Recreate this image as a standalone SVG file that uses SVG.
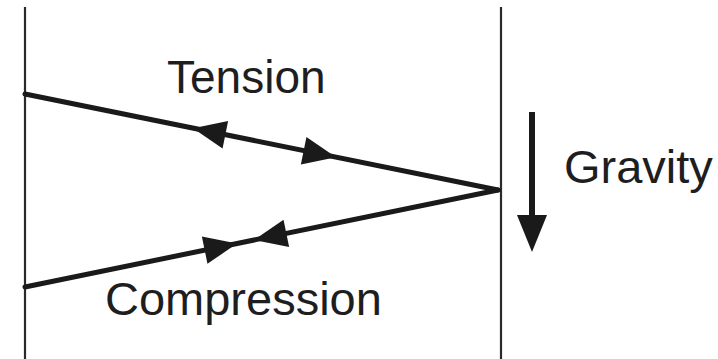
<svg xmlns="http://www.w3.org/2000/svg" width="718" height="359" viewBox="0 0 718 359">
<style>
.wall{stroke:#2a2a2a;stroke-width:2.2;fill:none}
.member{stroke:#1a1a1a;stroke-width:5;fill:none;stroke-linecap:round}
.head{fill:#1a1a1a}
.lbl{font-family:"Liberation Sans",Arial,sans-serif;font-size:46px;fill:#1e1e1e}
.big{font-size:47px}
</style>
<rect width="718" height="359" fill="#fff"/>
<g id="walls">
<line class="wall" x1="25" y1="7" x2="25" y2="359"/>
<line class="wall" x1="501" y1="7" x2="501" y2="359"/>
</g>
<g id="connectors">
<line class="member" x1="25" y1="94" x2="498" y2="190"/>
<line class="member" x1="25" y1="287" x2="498" y2="190"/>
<g transform="translate(193,128.2) rotate(11.47)"><polygon class="head" points="0,0 33,-14 33,14"/></g>
<g transform="translate(336,157.3) rotate(11.47)"><polygon class="head" points="0,0 -33,-14 -33,14"/></g>
<g transform="translate(237,243.5) rotate(-11.56)"><polygon class="head" points="0,0 -33,-14 -33,14"/></g>
<g transform="translate(254,240) rotate(-11.56)"><polygon class="head" points="0,0 33,-14 33,14"/></g>
</g>
<g id="gravity">
<line x1="532" y1="112" x2="532" y2="218" stroke="#1a1a1a" stroke-width="6"/>
<polygon class="head" points="517,215 547,215 532,252"/>
</g>
<g id="label-tension"><text class="lbl" x="167" y="93">Tension</text></g>
<g id="label-compression"><text class="lbl big" x="105" y="315">Compression</text></g>
<g id="label-gravity"><text class="lbl big" x="564" y="183">Gravity</text></g>
</svg>
